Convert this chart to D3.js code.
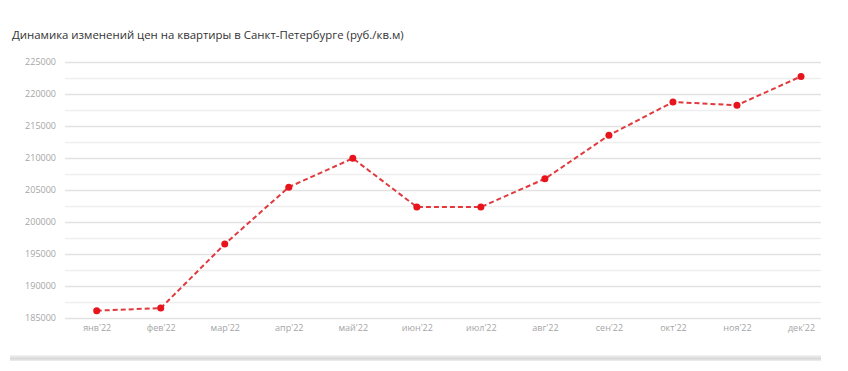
<!DOCTYPE html>
<html>
<head>
<meta charset="utf-8">
<script src="https://cdn.jsdelivr.net/npm/d3@7"></script>
<style>
  body { margin: 0; background: #fff; }
  svg { display: block; font-family: "Open Sans", sans-serif; }
</style>
</head>
<body>
<div id="chart"></div>
<script>
var months = ["янв'22", "фев'22", "мар'22", "апр'22", "май'22", "июн'22",
              "июл'22", "авг'22", "сен'22", "окт'22", "ноя'22", "дек'22"];
var prices = [186100, 186500, 196500, 205400, 209900, 202300,
              202300, 206700, 213500, 218700, 218200, 222700];
var yTicks = [185000, 190000, 195000, 200000, 205000, 210000, 215000, 220000, 225000];
var title = "Динамика изменений цен на квартиры в Санкт-Петербурге (руб./кв.м)";

function init() {
    var W = 848, H = 371;
    var left = 65, right = 821, top = 61.7, bottom = 317.7;

    var svg = d3.select("#chart").append("svg")
        .attr("width", W).attr("height", H);

    // card bottom shadow
    var defs = svg.append("defs");
    var grad = defs.append("linearGradient").attr("id", "shadow")
        .attr("x1", 0).attr("y1", 0).attr("x2", 0).attr("y2", 1);
    grad.append("stop").attr("offset", "0%").attr("stop-color", "#f4f4f4");
    grad.append("stop").attr("offset", "60%").attr("stop-color", "#d8d8d8");
    grad.append("stop").attr("offset", "100%").attr("stop-color", "#eeeeee");
    svg.append("rect")
        .attr("x", 10).attr("y", 355).attr("width", 811).attr("height", 6)
        .attr("fill", "url(#shadow)");

    svg.append("text")
        .attr("x", 12).attr("y", 39)
        .attr("font-size", "11.4px")
        .attr("fill", "#333")
        .text(title);

    var x = d3.scalePoint().domain(months).range([96.7, 801]);
    var y = d3.scaleLinear().domain([185000, 225000]).range([bottom, top]);

    // gridlines (major + minor halves)
    var gridVals = d3.range(185000, 225001, 2500);
    svg.append("g").selectAll("line")
        .data(gridVals).enter().append("line")
        .attr("x1", left).attr("x2", right)
        .attr("y1", d => Math.round(y(d)) + 0.5)
        .attr("y2", d => Math.round(y(d)) + 0.5)
        .attr("stroke", d => d % 5000 === 0 ? "#e2e2e2" : "#eeeeee")
        .attr("stroke-width", 1.5);

    // y axis
    var yAxis = svg.append("g")
        .attr("transform", `translate(${left - 9},0)`)
        .call(d3.axisLeft(y).tickValues(yTicks).tickSize(0).tickPadding(0).tickFormat(d3.format("d")));
    yAxis.select(".domain").remove();
    yAxis.selectAll("text")
        .attr("fill", "#a5a5a5")
        .style("font-family", "Open Sans, sans-serif")
        .style("font-size", "9px");

    // x axis
    var xAxis = svg.append("g")
        .attr("transform", `translate(0,${bottom})`)
        .call(d3.axisBottom(x).tickSize(0).tickPadding(7));
    xAxis.select(".domain").remove();
    xAxis.selectAll("text")
        .attr("fill", "#a5a5a5")
        .style("font-family", "Open Sans, sans-serif")
        .style("font-size", "9px");

    var line = d3.line()
        .x((d, i) => x(months[i]))
        .y(d => y(d));

    svg.append("path")
        .datum(prices)
        .attr("d", line)
        .attr("fill", "none")
        .attr("stroke", "#e03a3e")
        .attr("stroke-width", 2)
        .attr("stroke-dasharray", "5,3");

    svg.append("g").selectAll("circle")
        .data(prices).enter().append("circle")
        .attr("cx", (d, i) => x(months[i]))
        .attr("cy", d => y(d))
        .attr("r", 3.5)
        .attr("fill", "#e8141c");
}

window.onload = init;
</script>
</body>
</html>
